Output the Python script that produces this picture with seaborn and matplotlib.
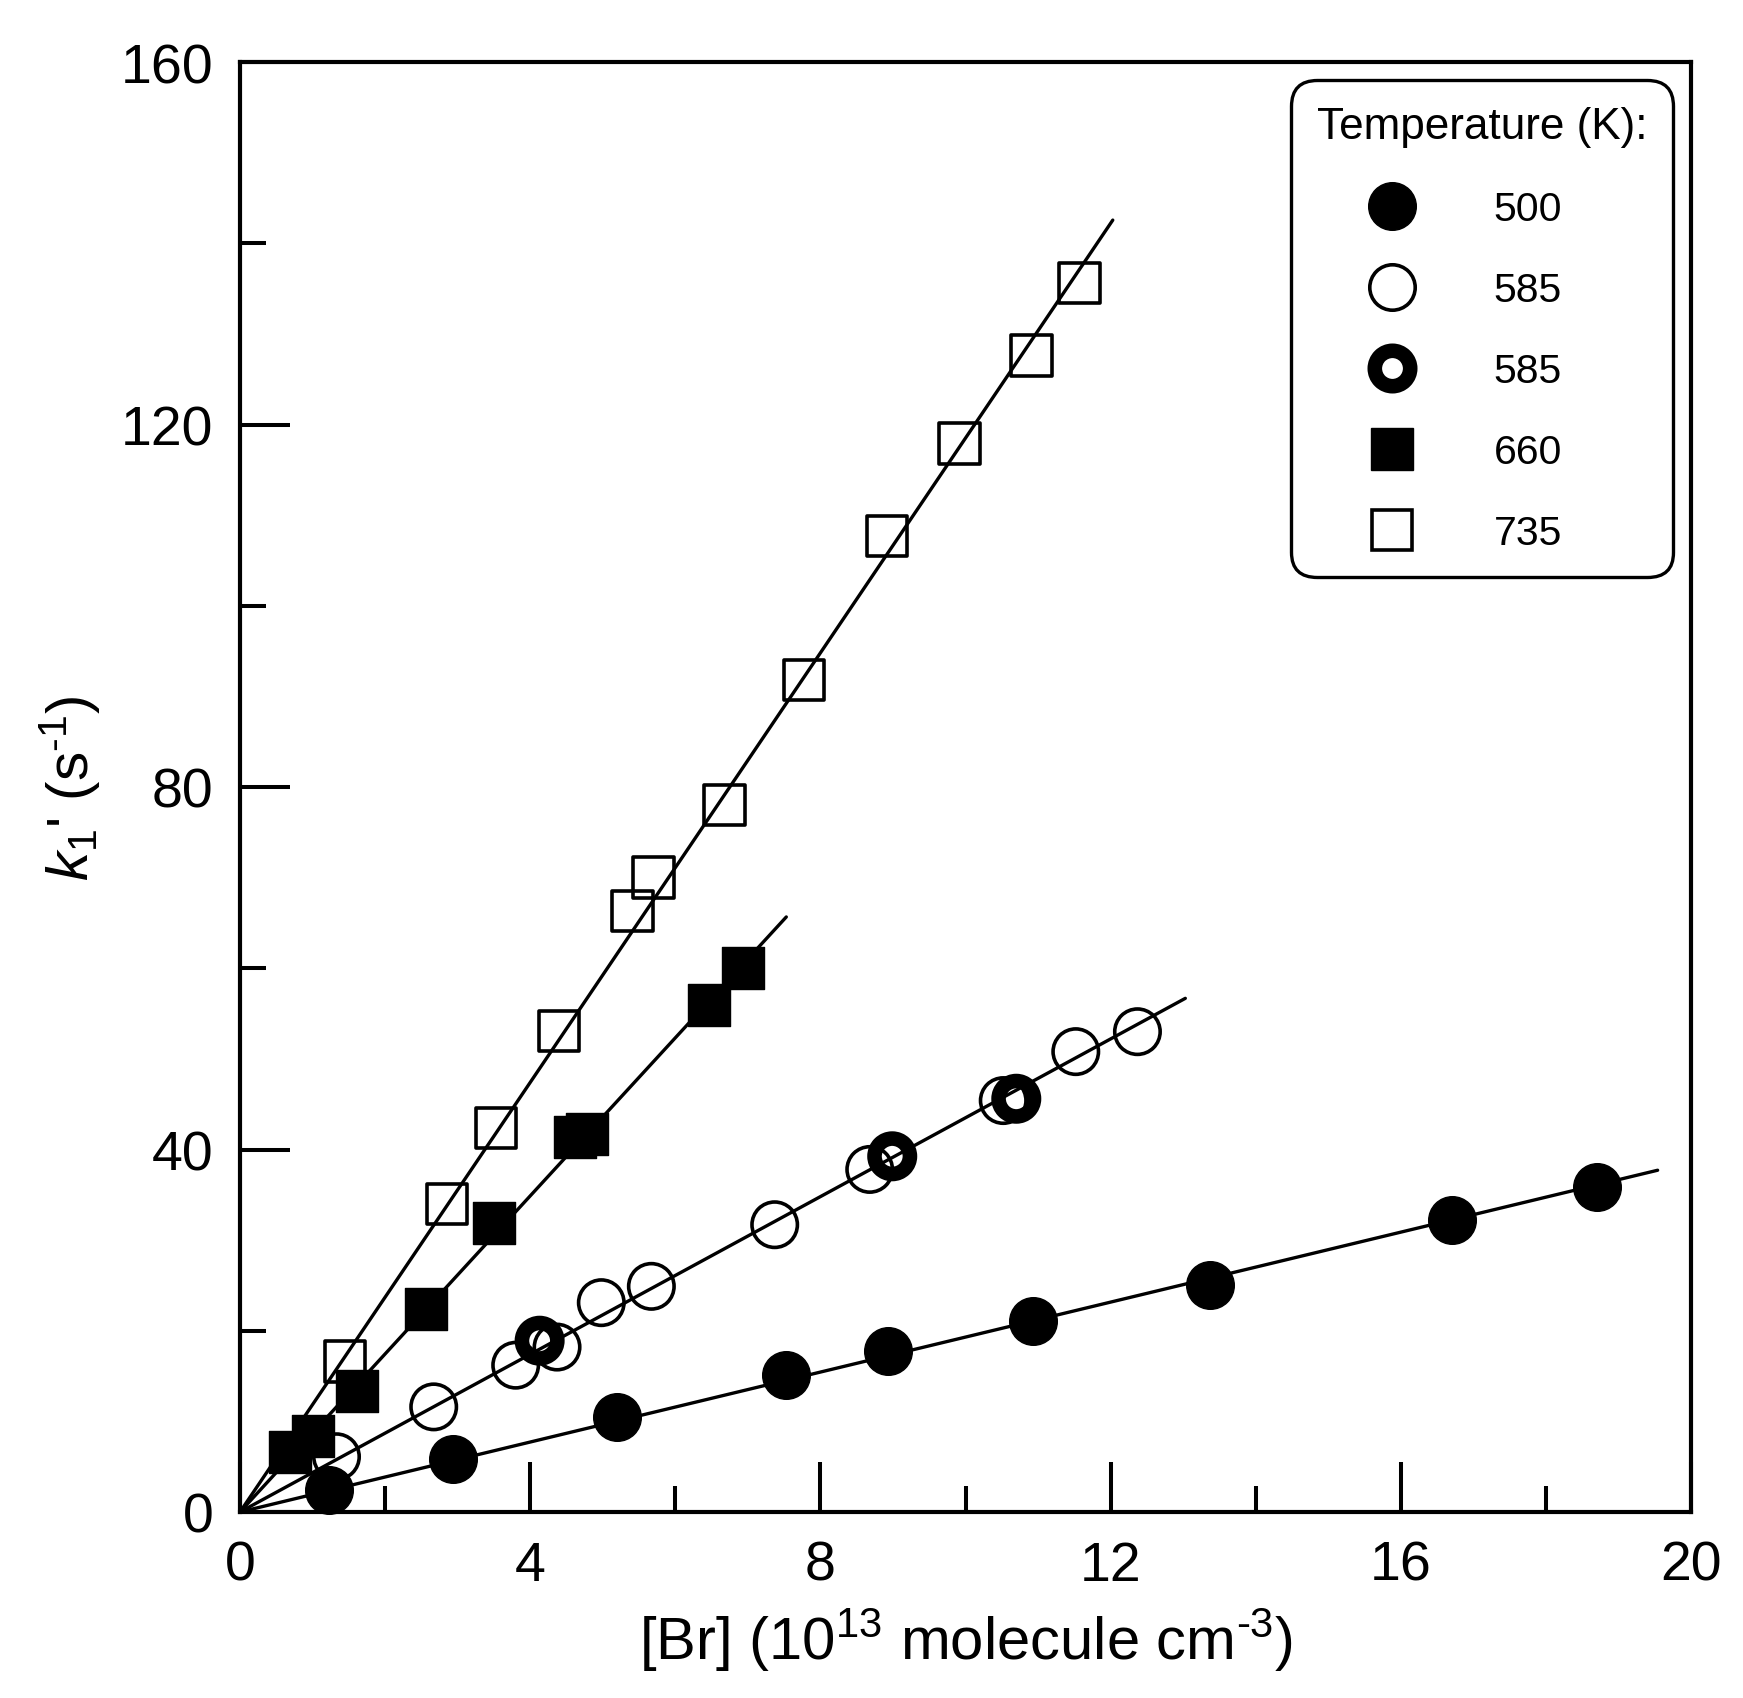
import matplotlib
matplotlib.use("Agg")
import matplotlib.pyplot as plt
from matplotlib.lines import Line2D
from matplotlib.ticker import MultipleLocator
import seaborn as sns
import pandas as pd
import numpy as np

# ---------------- data ----------------
t500_x = [1.23, 2.93, 5.19, 7.52, 8.93, 10.93, 13.37, 16.70, 18.70]
t500_y = [2.4, 5.9, 10.5, 15.1, 17.8, 21.1, 25.0, 32.2, 35.9]

t585_x = [1.33, 2.67, 3.80, 4.37, 4.98, 5.67, 7.37, 8.68, 10.52, 11.52, 12.37]
t585_y = [6.1, 11.6, 16.2, 18.2, 23.1, 24.9, 31.7, 37.8, 45.4, 50.8, 53.0]

t585b_x = [4.13, 8.99, 10.70]
t585b_y = [18.9, 39.25, 45.6]

t660_x = [0.69, 1.00, 1.61, 2.56, 3.50, 4.62, 4.78, 6.47, 6.94]
t660_y = [6.6, 8.4, 13.4, 22.4, 31.9, 41.4, 41.7, 55.9, 60.0]

t735_x = [1.45, 2.85, 3.53, 4.40, 5.41, 5.70, 6.68, 7.77, 8.92, 9.92, 10.91, 11.57]
t735_y = [16.6, 34.0, 42.4, 53.1, 66.3, 70.0, 78.0, 91.8, 107.7, 117.9, 127.6, 135.6]

fit_labels = ["500", "585", "660", "735"]
fit_slopes = [1.93, 4.35, 8.72, 11.85]
fit_xend = [19.54, 13.03, 7.53, 12.03]

legend_labels = ["500", "585", "585", "660", "735"]
x_ticks = [0, 4, 8, 12, 16, 20]
y_ticks = [0, 40, 80, 120, 160]

# ---------------- style ----------------
sns.set_style("ticks")
plt.rcParams["font.family"] = ["Liberation Sans", "DejaVu Sans"]
plt.rcParams["mathtext.fontset"] = "custom"
plt.rcParams["mathtext.rm"] = "Liberation Sans"
plt.rcParams["mathtext.it"] = "Liberation Sans:italic"
plt.rcParams["mathtext.bf"] = "Liberation Sans:bold"
for key in ["text.color", "axes.labelcolor", "xtick.color", "ytick.color",
            "axes.edgecolor"]:
    plt.rcParams[key] = "black"

fig = plt.figure(figsize=(17.43, 16.99), dpi=100)
ax = fig.add_axes([240 / 1743, 1 - 1513 / 1699, 1451 / 1743, 1450 / 1699])

# fit lines through origin
for lab, m, xe in zip(fit_labels, fit_slopes, fit_xend):
    dfl = pd.DataFrame({"x": [0.0, xe], "y": [0.0, m * xe]})
    sns.lineplot(data=dfl, x="x", y="y", ax=ax, color="black", linewidth=2.4,
                 zorder=3, legend=False)

styles = [
    dict(x=t500_x, y=t500_y, marker="o", ms=34.3, fc="black", mew=1.0),
    dict(x=t585_x, y=t585_y, marker="o", ms=32.7, fc="none", mew=2.6),
    dict(x=t585b_x, y=t585b_y, marker="o", ms=25.5, fc="none", mew=10.5),
    dict(x=t660_x, y=t660_y, marker="s", ms=30.7, fc="black", mew=1.0),
    dict(x=t735_x, y=t735_y, marker="s", ms=29.1, fc="none", mew=2.6),
]

handles = []
for st, lab in zip(styles, legend_labels):
    dfp = pd.DataFrame({"x": st["x"], "y": st["y"]})
    sns.scatterplot(data=dfp, x="x", y="y", ax=ax, marker=st["marker"],
                    s=st["ms"] ** 2, facecolor=st["fc"], edgecolor="black",
                    linewidth=st["mew"], zorder=4, clip_on=False, legend=False)
    handles.append(Line2D([], [], linestyle="none", marker=st["marker"],
                          markersize=st["ms"],
                          markerfacecolor=st["fc"] if st["fc"] != "none" else "white",
                          markeredgecolor="black", markeredgewidth=st["mew"], label=lab))

ax.set_xlim(0, 20)
ax.set_ylim(0, 160)
ax.set_xticks(x_ticks)
ax.set_yticks(y_ticks)
ax.xaxis.set_minor_locator(MultipleLocator(2))
ax.yaxis.set_minor_locator(MultipleLocator(20))
ax.tick_params(which="both", direction="in", top=False, right=False, width=2.9,
               color="black", labelcolor="black")
ax.tick_params(which="major", length=36, labelsize=40)
ax.tick_params(which="minor", length=18.7)
ax.tick_params(axis="x", which="major", pad=20)
ax.tick_params(axis="y", which="major", pad=19)
for sp in ax.spines.values():
    sp.set_linewidth(3.0)
    sp.set_color("black")
    sp.set_visible(True)

ax.set_xlabel("[Br] (10$^{13}$ molecule cm$^{\u2010 3}$)", fontsize=43, labelpad=10)
ax.set_ylabel("$k_1$' (s$^{\u2010 1}$)", fontsize=42, labelpad=14)

leg = ax.legend(handles=handles, title="Temperature (K):", loc="upper right",
                fontsize=29.5, title_fontsize=31.8, frameon=True, fancybox=True,
                borderpad=0.62, handlelength=3.7, handletextpad=0.62,
                labelspacing=1.05, borderaxespad=0.45, alignment="left",
                edgecolor="black", framealpha=1)
frame = leg.get_frame()
frame.set_linewidth(2.4)
frame.set_boxstyle("round", pad=0, rounding_size=0.62)

fig.savefig("out.png", dpi=100, facecolor="white")
